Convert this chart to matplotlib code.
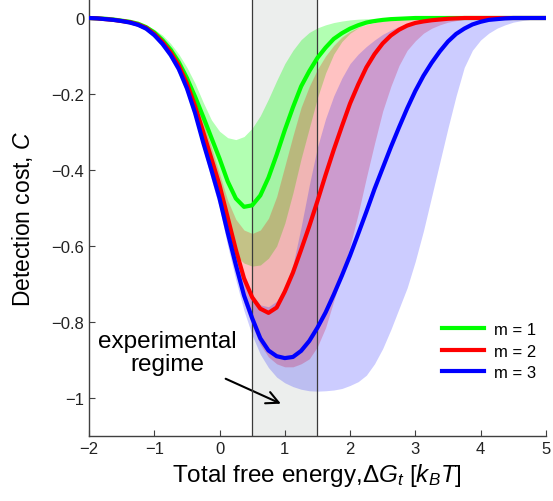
import numpy as np
import matplotlib
matplotlib.use('Agg')
import matplotlib.pyplot as plt

plt.rcParams['font.family'] = ['Liberation Sans', 'DejaVu Sans']
plt.rcParams['mathtext.fontset'] = 'custom'
plt.rcParams['mathtext.rm'] = 'Liberation Sans'
plt.rcParams['mathtext.it'] = 'Liberation Sans:italic'

# free energy grid (k_B T), one row of values per unit below
dG = np.arange(-2, 5.001, 0.125)

# mean detection cost for m = 1, 2, 3
cost_m1 = [0, -0.001, -0.002, -0.004, -0.007, -0.01, -0.015, -0.024,
           -0.038, -0.058, -0.083, -0.116, -0.158, -0.207, -0.26, -0.315,
           -0.37, -0.43, -0.475, -0.497, -0.493, -0.467, -0.42, -0.36,
           -0.295, -0.235, -0.18, -0.14, -0.105, -0.078, -0.055, -0.04,
           -0.028, -0.019, -0.012, -0.008, -0.005, -0.003, -0.002, -0.001,
           0, 0, 0, 0, 0, 0, 0, 0,
           0, 0, 0, 0, 0, 0, 0, 0,
           0]
cost_m2 = [0, -0.001, -0.003, -0.005, -0.008, -0.011, -0.017, -0.026,
           -0.042, -0.063, -0.09, -0.125, -0.172, -0.232, -0.30, -0.37,
           -0.44, -0.525, -0.61, -0.685, -0.735, -0.765, -0.776, -0.762,
           -0.72, -0.67, -0.61, -0.548, -0.482, -0.413, -0.347, -0.285,
           -0.225, -0.175, -0.13, -0.095, -0.067, -0.046, -0.031, -0.02,
           -0.013, -0.009, -0.006, -0.004, -0.002, -0.001, 0, 0,
           0, 0, 0, 0, 0, 0, 0, 0,
           0]
cost_m3 = [0, -0.001, -0.003, -0.005, -0.008, -0.012, -0.018, -0.028,
           -0.045, -0.068, -0.097, -0.134, -0.185, -0.25, -0.328, -0.40,
           -0.475, -0.565, -0.65, -0.73, -0.79, -0.843, -0.875, -0.89,
           -0.895, -0.892, -0.876, -0.85, -0.815, -0.775, -0.728, -0.678,
           -0.625, -0.568, -0.51, -0.45, -0.395, -0.34, -0.288, -0.238,
           -0.192, -0.152, -0.118, -0.088, -0.062, -0.042, -0.028, -0.017,
           -0.01, -0.005, -0.003, -0.001, 0, 0, 0, 0,
           0]

# spread of the cost (upper / lower edges of the shaded bands)
m1_upper = [0, -0.001, -0.002, -0.003, -0.005, -0.008, -0.012, -0.019,
            -0.03, -0.045, -0.067, -0.095, -0.13, -0.172, -0.222, -0.268,
            -0.298, -0.315, -0.32, -0.312, -0.29, -0.257, -0.213, -0.165,
            -0.12, -0.085, -0.057, -0.038, -0.026, -0.018, -0.012, -0.008,
            -0.005, -0.003, -0.002, -0.001, 0, 0, 0, 0,
            0, 0, 0, 0, 0, 0, 0, 0,
            0, 0, 0, 0, 0, 0, 0, 0,
            0]
m1_lower = [0, -0.001, -0.003, -0.005, -0.009, -0.013, -0.019, -0.03,
            -0.048, -0.071, -0.1, -0.138, -0.19, -0.255, -0.332, -0.408,
            -0.482, -0.572, -0.625, -0.645, -0.653, -0.65, -0.632, -0.6,
            -0.54, -0.46, -0.37, -0.29, -0.21, -0.145, -0.095, -0.062,
            -0.04, -0.026, -0.016, -0.01, -0.006, -0.004, -0.002, -0.001,
            0, 0, 0, 0, 0, 0, 0, 0,
            0, 0, 0, 0, 0, 0, 0, 0,
            0]
m2_upper = [0, -0.001, -0.002, -0.004, -0.007, -0.01, -0.015, -0.023,
            -0.037, -0.056, -0.08, -0.112, -0.155, -0.21, -0.272, -0.34,
            -0.41, -0.48, -0.53, -0.558, -0.567, -0.558, -0.527, -0.47,
            -0.39, -0.31, -0.235, -0.18, -0.135, -0.1, -0.072, -0.05,
            -0.035, -0.025, -0.017, -0.012, -0.008, -0.005, -0.003, -0.002,
            -0.001, 0, 0, 0, 0, 0, 0, 0,
            0, 0, 0, 0, 0, 0, 0, 0,
            0]
m2_lower = [0, -0.001, -0.003, -0.005, -0.009, -0.013, -0.019, -0.03,
            -0.047, -0.07, -0.1, -0.138, -0.19, -0.255, -0.333, -0.408,
            -0.483, -0.575, -0.665, -0.75, -0.81, -0.86, -0.892, -0.91,
            -0.918, -0.918, -0.91, -0.897, -0.865, -0.815, -0.745, -0.675,
            -0.6, -0.515, -0.42, -0.33, -0.245, -0.18, -0.125, -0.085,
            -0.06, -0.04, -0.027, -0.018, -0.011, -0.007, -0.004, -0.002,
            -0.001, 0, 0, 0, 0, 0, 0, 0,
            0]
m3_upper = [0, -0.001, -0.002, -0.004, -0.007, -0.011, -0.016, -0.025,
            -0.04, -0.06, -0.086, -0.12, -0.165, -0.225, -0.29, -0.36,
            -0.43, -0.52, -0.605, -0.68, -0.73, -0.755, -0.76, -0.745,
            -0.71, -0.65, -0.55, -0.44, -0.34, -0.265, -0.205, -0.158,
            -0.12, -0.095, -0.075, -0.058, -0.043, -0.032, -0.022, -0.015,
            -0.01, -0.006, -0.004, -0.002, -0.001, 0, 0, 0,
            0, 0, 0, 0, 0, 0, 0, 0,
            0]
m3_lower = [0, -0.001, -0.003, -0.006, -0.01, -0.015, -0.022, -0.034,
            -0.052, -0.077, -0.108, -0.148, -0.2, -0.268, -0.345, -0.425,
            -0.5, -0.6, -0.69, -0.77, -0.835, -0.885, -0.92, -0.945,
            -0.96, -0.97, -0.977, -0.981, -0.982, -0.981, -0.979, -0.975,
            -0.967, -0.957, -0.94, -0.91, -0.87, -0.82, -0.765, -0.71,
            -0.64, -0.56, -0.47, -0.38, -0.29, -0.205, -0.13, -0.085,
            -0.058, -0.04, -0.027, -0.018, -0.011, -0.007, -0.004, -0.002,
            -0.001]

regime = (0.5, 1.5)
xticks = [-2, -1, 0, 1, 2, 3, 4, 5]
xtick_labels = ['\u22122', '\u22121', '0', '1', '2', '3', '4', '5']
yticks = [0, -0.2, -0.4, -0.6, -0.8, -1]
ytick_labels = ['0', '\u22120.2', '\u22120.4', '\u22120.6', '\u22120.8', '\u22121']

fig = plt.figure(figsize=(5.53, 5.02), dpi=100)
ax = fig.add_axes([0.161, 0.1295, 0.826, 0.8705])

# experimental regime shading
ax.axvspan(regime[0], regime[1], color='#eceeed', zorder=0, lw=0)

# bands
ax.fill_between(dG, m1_upper, m1_lower, color='#00ff00', alpha=0.3, lw=0, zorder=1)
ax.fill_between(dG, m2_upper, m2_lower, color='#ff0000', alpha=0.24, lw=0, zorder=2)
ax.fill_between(dG, m3_upper, m3_lower, color='#0000ff', alpha=0.2, lw=0, zorder=3)

for xv in regime:
    ax.axvline(xv, color='#3a3a3a', lw=0.9, zorder=4)

ax.plot(dG, cost_m1, color='#00ff00', lw=3, label='m = 1', zorder=5)
ax.plot(dG, cost_m2, color='#ff0000', lw=3, label='m = 2', zorder=6)
ax.plot(dG, cost_m3, color='#0000ff', lw=3, label='m = 3', zorder=7)

ax.set_xlim(-2, 5)
ax.set_ylim(-1.1, 0.05)
ax.set_xticks(xticks)
ax.set_xticklabels(xtick_labels)
ax.set_yticks(yticks)
ax.set_yticklabels(ytick_labels)
ax.tick_params(direction='in', length=4, width=0.8, color='#404040', labelsize=12,
               labelcolor='#222222')
for s in ['top', 'right']:
    ax.spines[s].set_visible(False)
for s in ['left', 'bottom']:
    ax.spines[s].set_color('#404040')
    ax.spines[s].set_linewidth(1.0)

ax.set_ylabel('Detection cost, $\\mathit{C}$', fontsize=16.5, labelpad=12)
ax.set_xlabel('Total free energy,$\\Delta\\mathit{G_t}$ [$\\mathit{k_B T}$]', fontsize=17.5,
              labelpad=4)

ax.annotate('experimental\nregime', xy=(0.94, -1.015), xytext=(-0.8, -0.88),
            ha='center', va='center', fontsize=17.5, linespacing=1.05,
            arrowprops=dict(arrowstyle='->', color='black', lw=1.5,
                            shrinkA=2, shrinkB=0, mutation_scale=22))

ax.legend(loc='upper left', bbox_to_anchor=(3.41, -0.80), bbox_transform=ax.transData,
          frameon=False, fontsize=12, handlelength=2.5, handletextpad=0.6,
          labelspacing=0.4, borderpad=0, borderaxespad=0)

fig.savefig('out.png', dpi=100)
